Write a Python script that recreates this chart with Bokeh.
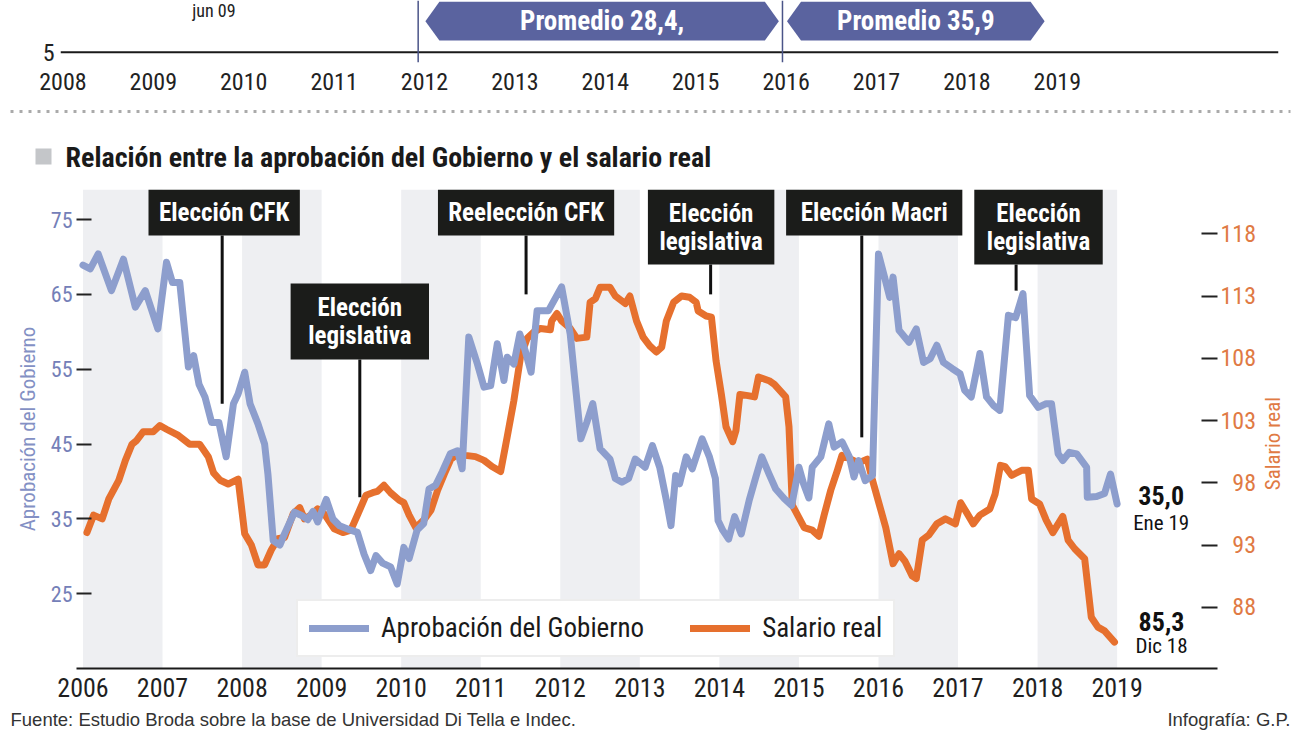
import math
from bokeh.plotting import figure
from bokeh.models import (Range1d, LinearAxis, FixedTicker, Legend, LegendItem,
                          CustomJSTickFormatter, Span)
from bokeh.layouts import column
from bokeh.embed import file_html
from bokeh.resources import INLINE
from bokeh.core.properties import value

# ------------------------------------------------------------------ data
anios = list(range(2006, 2020))          # main chart year ticks
anios_sup = list(range(2008, 2020))      # top strip year ticks

# Aprobación del Gobierno (months since Jan 2006, value)
aprob_mes = [0, 1.1, 2.3, 4.3, 6.1, 7.9, 9.4, 11.3, 12.6, 13.5, 14.6, 15.9, 16.7, 17.5,
             18.4, 19.4, 20.5, 21.6, 22.7, 23.4, 24.4, 25.2, 26.4, 27.4, 27.9, 28.7,
             29.7, 30.4, 31.9, 32.9, 33.9, 34.7, 35.4, 36.7, 37.7, 38.7, 40.4, 41.4,
             42.4, 43.4, 44.2, 45.2, 46.4, 47.4, 48.4, 49.2, 50.4, 51.4, 52.2, 53.2,
             54.2, 55.4, 56.5, 57.2, 58.2, 59.5, 60.5, 61.5, 62.5, 63.5, 64.0, 65.0,
             65.9, 66.7, 67.6, 68.5, 70.2, 72.2, 73.5, 74.2, 75.1, 76.0, 76.9, 78.0,
             79.5, 80.3, 81.3, 82.3, 83.3, 84.8, 85.9, 87.0, 88.0, 88.7, 89.4, 90.0,
             91.0, 91.9, 93.4, 94.5, 95.4, 95.8, 96.5, 97.4, 98.3, 99.3, 100.5, 101.5,
             102.4, 103.5, 104.5, 105.8, 106.9, 108.0, 108.7, 109.5, 110.0, 111.3,
             112.5, 113.3, 114.5, 115.6, 116.3, 117.0, 118.0, 119.1, 120.0, 120.8,
             121.7, 122.2, 123.1, 124.6, 125.7, 126.8, 127.8, 128.8, 129.8, 131.1,
             132.3, 133.0, 134.0, 135.3, 136.3, 137.3, 138.3, 139.6, 140.7, 141.8,
             142.8, 144.1, 145.3, 146.1, 147.1, 147.8, 148.8, 149.9, 151.4, 151.5,
             152.9, 154.1, 155.0, 156.0]
aprob_val = [68.9, 68.4, 70.4, 65.5, 69.7, 63.3, 65.5, 60.4, 69.3, 66.6, 66.6, 55.3, 56.8, 53.0,
             51.3, 47.9, 47.9, 43.3, 50.4, 51.7, 54.6, 50.4, 47.7, 45.0, 41.0, 32.1,
             31.5, 33.0, 35.9, 35.5, 34.9, 36.0, 34.6, 37.6, 35.0, 34.1, 33.5, 33.2,
             30.3, 28.1, 30.1, 29.1, 28.6, 26.3, 31.2, 29.7, 33.5, 34.4, 39.0, 39.5,
             41.3, 43.7, 44.1, 41.7, 59.3, 55.7, 52.6, 52.8, 58.4, 53.5, 56.6, 55.7,
             59.7, 57.5, 54.6, 62.8, 62.8, 66.0, 59.7, 53.5, 45.7, 47.9, 50.4, 44.4,
             43.0, 40.4, 39.9, 40.4, 43.0, 41.9, 44.8, 41.9, 37.5, 34.1, 40.8, 39.7,
             43.3, 41.7, 45.7, 43.3, 40.4, 34.8, 33.5, 32.3, 35.3, 33.0, 37.5, 40.6,
             43.3, 41.0, 39.0, 37.7, 36.8, 41.9, 39.7, 37.8, 41.9, 43.3,
             47.7, 44.6, 45.3, 43.3, 40.6, 42.8, 40.1, 40.8, 70.4, 67.7,
             64.6, 67.3, 60.2, 58.6, 60.4, 55.9, 56.4, 58.2, 55.9, 55.1,
             54.4, 52.2, 51.3, 57.1, 51.3, 50.2, 49.5, 62.2, 61.9, 65.1,
             51.5, 49.9, 50.4, 50.4, 43.7, 42.8, 43.9, 43.7, 41.9, 37.9,
             38.0, 38.4, 41.0, 37.0]

# Salario real (months since Jan 2006, value)
salario_mes = [0.6, 1.6, 2.9, 3.9, 5.4, 6.4, 7.4, 8.1, 9.1, 10.6, 11.6, 12.6, 14.4, 16.1,
               17.6, 18.9, 19.7, 20.7, 21.9, 23.4, 24.4, 25.4, 26.4, 27.4, 28.4, 29.4,
               30.4, 31.7, 32.7, 33.4, 34.4, 35.4, 36.4, 37.9, 39.2, 40.4, 41.4, 42.7,
               43.7, 44.4, 45.4, 46.4, 47.7, 48.4, 49.2, 50.2, 51.4, 52.5, 53.5, 54.5,
               55.5, 56.5, 57.7, 59.2, 60.5, 61.7, 63.0, 64.0, 65.0, 66.0, 67.0, 68.0,
               69.0, 70.5, 70.7, 71.5, 72.2, 73.5, 74.5, 76.0, 76.5, 77.3, 78.0, 79.5,
               80.3, 81.8, 82.5, 83.5, 84.5, 85.5, 86.5, 87.3, 88.0, 89.1, 90.3, 91.5,
               92.5, 92.8, 94.0, 94.8, 95.0, 95.5, 96.3, 97.0, 98.0, 98.5, 99.1, 100.3,
               101.3, 101.9, 103.5, 104.3, 106.0, 106.5, 107.0, 108.0, 108.8, 110.0,
               111.0, 111.8, 112.8, 113.8, 114.5, 115.8, 117.0, 118.3, 119.1, 120.1,
               121.1, 122.2, 123.1, 124.0, 125.1, 125.7, 126.6, 127.6, 128.8, 130.1,
               131.6, 132.4, 133.3, 134.3, 135.3, 136.8, 137.6, 138.4, 139.1, 140.1,
               141.6, 142.6, 143.1, 144.3, 145.3, 146.3, 147.8, 148.6, 149.6, 151.1,
               152.1, 153.1, 154.1, 155.6]
salario_val = [94.0, 95.4, 95.1, 96.7, 98.2, 99.8, 101.1, 101.4, 102.1, 102.1, 102.6, 102.3, 101.8, 101.1,
               101.1, 100.1, 98.8, 98.2, 97.9, 98.3, 93.9, 93.0, 91.4, 91.4, 92.6, 93.5,
               93.6, 95.5, 96.0, 95.1, 95.4, 95.9, 95.5, 94.3, 94.0, 94.2, 95.4, 97.0,
               97.2, 97.3, 97.8, 97.2, 96.6, 96.4, 95.4, 94.4, 95.0, 95.8, 97.4, 98.7,
               99.9, 100.3, 100.2, 100.1, 99.8, 99.3, 98.9, 101.7, 104.6, 108.1, 109.6, 110.1,
               110.4, 110.3, 111.0, 111.6, 111.0, 110.4, 109.6, 109.7, 112.5, 112.8, 113.7, 113.7,
               113.0, 112.4, 113.0, 111.0, 109.7, 109.0, 108.5, 108.9, 111.0, 112.5, 113.0, 112.9,
               112.5, 111.8, 111.4, 111.3, 110.3, 107.8, 105.1, 102.5, 101.3, 102.2, 105.1, 105.0,
               104.9, 106.5, 106.2, 105.9, 104.9, 102.5, 96.2, 95.2, 94.4, 94.2,
               93.7, 95.4, 97.4, 99.0, 100.2, 99.9, 99.6, 99.9, 98.2, 96.3,
               94.4, 91.5, 92.3, 91.7, 90.5, 90.3, 93.4, 93.8, 94.7, 95.1,
               94.7, 96.4, 95.6, 94.7, 95.4, 95.9, 97.1, 99.4, 99.3, 98.6,
               99.0, 99.0, 96.7, 96.3, 95.0, 94.0, 95.3, 93.4, 92.7, 91.9,
               87.2, 86.4, 86.1, 85.2]

aprob_ultimo = ["35,0", "Ene 19"]
salario_ultimo = ["85,3", "Dic 18"]

eventos_fecha = [2007.75, 2009.48, 2011.57, 2013.89, 2015.79, 2017.73]
eventos_texto = [["Elección CFK"], ["Elección", "legislativa"], ["Reelección CFK"],
                 ["Elección", "legislativa"], ["Elección Macri"], ["Elección", "legislativa"]]

mandatos = [2011.93, 2015.96]
promedio_desde = [2012.01, 2016.01]
promedio_hasta = [2015.92, 2018.86]
promedio_texto = ["Promedio 28,4,", "Promedio 35,9"]
nota_sup_fecha = [2009.67]
nota_sup_texto = ["jun 09"]

titulo = "Relación entre la aprobación del Gobierno y el salario real"
eje_izq = "Aprobación del Gobierno"
eje_der = "Salario real"
fuente = "Fuente: Estudio Broda sobre la base de Universidad Di Tella e Indec."
credito = "Infografía: G.P."

# ------------------------------------------------------------------ style
FONT = "Roboto Condensed, DejaVu Sans Condensed, Roboto"
FONT_REG = "Liberation Sans"
BLUE = "#8d9ecd"
BLUE_TXT = "#7480b8"
ORANGE = "#e6702e"
ORANGE_TXT = "#e07a44"
BAND = "#eeeff2"
DARK = "#1b1c1a"
W = 1300


def clean(p):
    p.grid.visible = False
    p.outline_line_color = None
    p.background_fill_color = "white"
    p.border_fill_color = "white"
    try:
        p.frame_align = False
    except Exception:
        pass


# ------------------------------------------------------------------ top strip
T_X0, T_X1 = 2007.9735, 2021.447
top = figure(width=W, height=102, x_range=Range1d(T_X0, T_X1), y_range=Range1d(0, 30),
             output_backend="svg", toolbar_location=None,
             min_border_left=60, min_border_right=22, min_border_top=0, min_border_bottom=40)
clean(top)
top.xaxis.ticker = FixedTicker(ticks=anios_sup)
top.yaxis.ticker = FixedTicker(ticks=[5])
for ax in (top.xaxis, top.yaxis):
    ax.axis_line_color = None
    ax.major_tick_in = 0
    ax.major_tick_out = 0
    ax.minor_tick_line_color = None
    ax.major_label_text_font = FONT
    ax.major_label_text_font_size = "24px"
    ax.major_label_text_color = "#222222"
top.xaxis.major_label_standoff = 10
top.yaxis.major_label_standoff = 6
top.add_layout(Span(location=5, dimension="width", line_color="#1a1a1a", line_width=2))
for m in mandatos:
    top.add_layout(Span(location=m, dimension="height", line_color="#4a5488", line_width=1.5))

tppx = 1218 / (T_X1 - T_X0)
ins = 14 / tppx
yt, yb, ym = 29.4, 10.6, 20.0
xs, ys, mids = [], [], []
for a, b in zip(promedio_desde, promedio_hasta):
    xs.append([a, a + ins, b - ins, b, b - ins, a + ins])
    ys.append([ym, yt, yt, ym, yb, yb])
    mids.append((a + b) / 2)
top.patches(xs, ys, fill_color="#5a639f", line_color=None)
top.text(x=mids, y=[ym] * len(mids), text=promedio_texto, text_color="white",
         text_font=value(FONT), text_font_style="bold", text_font_size="27px",
         text_align="center", text_baseline="middle")
top.text(x=nota_sup_fecha, y=[25.0], text=nota_sup_texto, text_color="#222222",
         text_font=value(FONT), text_font_size="18px", text_align="center", text_baseline="middle")

# ------------------------------------------------------------------ header (separator + title)
head = figure(width=W, height=87, x_range=Range1d(0, W), y_range=Range1d(0, 87),
              output_backend="svg", toolbar_location=None, x_axis_type=None, y_axis_type=None,
              min_border=0, min_border_left=0, min_border_right=0, min_border_top=0, min_border_bottom=0)
clean(head)
head.line(x=[10, 1290], y=[78, 78], line_color="#aaaaaa", line_width=3, line_dash="3 6")
head.quad(left=[35], right=[51], bottom=[25], top=[41], fill_color="#c4c6c9", line_color=None)
head.text(x=[65], y=[32], text=[titulo], text_color="#1a1a1a", text_font=value(FONT),
          text_font_style="bold", text_font_size="28px", text_align="left", text_baseline="middle")

# ------------------------------------------------------------------ main chart
X0, X1 = 2005.9187, 2020.2616
Y0, Y1 = 15.02, 79.01
S0, S1 = 83.08, 121.56
FW, FH = 1146, 479
main = figure(width=W, height=519, x_range=Range1d(X0, X1), y_range=Range1d(Y0, Y1),
              output_backend="svg", toolbar_location=None,
              min_border_left=76, min_border_right=78, min_border_top=0, min_border_bottom=40)
clean(main)
main.extra_y_ranges = {"sal": Range1d(S0, S1)}

# alternating year bands
main.quad(left=anios[:-1:2], right=anios[1::2], bottom=Y0, top=Y1, fill_color=BAND, line_color=None)

ap_t = [2006 + m / 12 for m in aprob_mes]
sa_t = [2006 + m / 12 for m in salario_mes]
r_sal = main.line(sa_t, salario_val, y_range_name="sal", line_color=ORANGE, line_width=7,
                  line_join="round", line_cap="round")
r_ap = main.line(ap_t, aprob_val, line_color=BLUE, line_width=7, line_join="round", line_cap="round")

# x axis
xa = main.xaxis[0]
xa.ticker = FixedTicker(ticks=anios)
xa.axis_line_color = "#1a1a1a"
xa.axis_line_width = 2
xa.major_tick_in = 0
xa.major_tick_out = 0
xa.minor_tick_line_color = None
xa.major_label_text_font = FONT
xa.major_label_text_font_size = "26px"
xa.major_label_text_color = "#1f1f1f"
xa.major_label_standoff = 9

# left axis
ya = main.yaxis[0]
ya.ticker = FixedTicker(ticks=[25, 35, 45, 55, 65, 75])
ya.axis_line_color = None
ya.major_tick_in = 15
ya.major_tick_out = 0
ya.major_tick_line_width = 2
ya.major_tick_line_color = "#222222"
ya.minor_tick_line_color = None
ya.major_label_text_font = FONT
ya.major_label_text_font_size = "22px"
ya.major_label_text_color = BLUE_TXT
ya.major_label_standoff = 4
ya.axis_label = eje_izq
ya.axis_label_text_font = FONT
ya.axis_label_text_font_style = "normal"
ya.axis_label_text_font_size = "21px"
ya.axis_label_text_color = "#8390c4"
ya.axis_label_standoff = 8

# right axis (ticks)
ra = LinearAxis(y_range_name="sal", ticker=FixedTicker(ticks=[88, 93, 98, 103, 108, 113, 118]),
                formatter=CustomJSTickFormatter(code=r'return (tick < 100 ? "\u2007" : "") + tick.toFixed(0);'))
ra.axis_line_color = None
ra.major_tick_in = 16
ra.major_tick_out = 0
ra.major_tick_line_width = 2
ra.major_tick_line_color = "#222222"
ra.minor_tick_line_color = None
ra.major_label_text_font = FONT
ra.major_label_text_font_size = "24px"
ra.major_label_text_color = ORANGE_TXT
ra.major_label_standoff = 3
main.add_layout(ra, "right")

# right axis title, reading bottom-to-top, starting at the value level where the text begins
ra2 = LinearAxis(y_range_name="sal", ticker=FixedTicker(ticks=[97.4]),
                 formatter=CustomJSTickFormatter(args=dict(t=eje_der), code="return t;"))
ra2.axis_line_color = None
ra2.major_tick_in = 0
ra2.major_tick_out = 0
ra2.minor_tick_line_color = None
ra2.major_label_orientation = math.pi / 2
ra2.major_label_text_font = FONT
ra2.major_label_text_font_size = "21px"
ra2.major_label_text_color = ORANGE_TXT
ra2.major_label_standoff = 14
main.add_layout(ra2, "right")

# event boxes and pointers (layout in pixels)
ev_dx = [2, 0, 0, 0.5, 12.5, 22.5]
ev_w = [152, 139, 177, 127, 177, 129]
ev_top = [0, 94, 0, 0, 0, 0]
ev_h = [46, 76, 46, 75, 46, 75]
ev_fin = [50.4, 37.9, 65.0, 65.0, 45.9, 65.5]
ppx = FW / (X1 - X0)
ppy = FH / (Y1 - Y0)
L, R, B, T = [], [], [], []
sx0, sy0, sy1 = [], [], []
tx, ty, tt = [], [], []
for t, lab, dx, w, tp, h, fin in zip(eventos_fecha, eventos_texto, ev_dx, ev_w, ev_top, ev_h, ev_fin):
    cx = t + dx / ppx
    top_v = Y1 - tp / ppy
    bot_v = top_v - h / ppy
    L.append(cx - w / 2 / ppx); R.append(cx + w / 2 / ppx)
    B.append(bot_v); T.append(top_v)
    sx0.append(t); sy0.append(bot_v); sy1.append(fin)
    cy = (top_v + bot_v) / 2
    if len(lab) == 1:
        tx.append(cx); ty.append(cy); tt.append(lab[0])
    else:
        tx += [cx, cx]; ty += [cy + 14 / ppy, cy - 14 / ppy]; tt += lab
main.segment(x0=sx0, y0=sy0, x1=sx0, y1=sy1, line_color="#111111", line_width=3)
main.quad(left=L, right=R, bottom=B, top=T, fill_color=DARK, line_color=None)
main.text(x=tx, y=ty, text=tt, text_color="white", text_font=value(FONT), text_font_style="bold",
          text_font_size="25px", text_align="center", text_baseline="middle")

# end-value labels
main.text(x=[ap_t[-1]], y=[aprob_val[-1]], text=[aprob_ultimo[0]], x_offset=44, y_offset=-8,
          text_color="#111111", text_font=value(FONT), text_font_style="bold", text_font_size="26px",
          text_align="center", text_baseline="middle")
main.text(x=[ap_t[-1]], y=[aprob_val[-1]], text=[aprob_ultimo[1]], x_offset=44, y_offset=19,
          text_color="#111111", text_font=value(FONT), text_font_size="21px",
          text_align="center", text_baseline="middle")
main.text(x=[sa_t[-1]], y=[salario_val[-1]], text=[salario_ultimo[0]], x_offset=47, y_offset=-21,
          y_range_name="sal", text_color="#111111", text_font=value(FONT), text_font_style="bold",
          text_font_size="26px", text_align="center", text_baseline="middle")
main.text(x=[sa_t[-1]], y=[salario_val[-1]], text=[salario_ultimo[1]], x_offset=47, y_offset=4,
          y_range_name="sal", text_color="#111111", text_font=value(FONT), text_font_size="21px",
          text_align="center", text_baseline="middle")

legend = Legend(items=[LegendItem(label="Aprobación del Gobierno", renderers=[r_ap]),
                       LegendItem(label="Salario real", renderers=[r_sal])],
                orientation="horizontal", location=(220, 11),
                glyph_width=60, glyph_height=24, label_standoff=12, spacing=46, padding=11, margin=0,
                background_fill_color="white", background_fill_alpha=1.0,
                border_line_color="#dcdcdc", border_line_width=2,
                label_text_font=FONT, label_text_font_size="27px", label_text_color="#1a1a1a")
main.add_layout(legend)

# ------------------------------------------------------------------ footer
foot = figure(width=W, height=22, x_range=Range1d(0, W), y_range=Range1d(0, 22),
              output_backend="svg", toolbar_location=None, x_axis_type=None, y_axis_type=None,
              min_border=0, min_border_left=0, min_border_right=0, min_border_top=0, min_border_bottom=0)
clean(foot)
foot.text(x=[10], y=[11.5], text=[fuente], text_color="#333333", text_font=value(FONT_REG),
          text_font_size="18.5px", text_align="left", text_baseline="middle")
foot.text(x=[1290], y=[11.5], text=[credito], text_color="#333333", text_font=value(FONT_REG),
          text_font_size="18.5px", text_align="right", text_baseline="middle")

layout = column(top, head, main, foot, spacing=0)
open("out.html", "w").write(file_html(layout, INLINE))
